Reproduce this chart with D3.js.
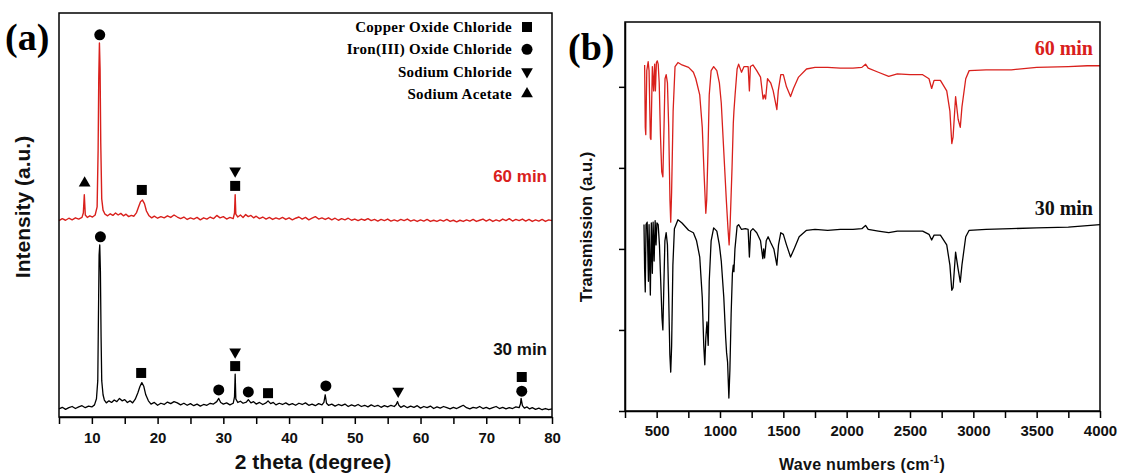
<!DOCTYPE html>
<html lang="en">
<head>
  <meta charset="UTF-8">
  <title>XRD + FTIR</title>
  <style>
    body { margin: 0; background: #fff; }
    svg { display: block; }
    .axis path, .axis line { stroke: #000; stroke-width: 1.5; }
    .axis text { font-family: "Liberation Sans", Arial, sans-serif; font-weight: bold; font-size: 15px; fill: #111; }
  </style>
</head>
<body>
  <svg id="chart" width="1121" height="473"></svg>
  <script src="https://d3js.org/d3.v7.min.js"></script>
  <script>
    // ---- (a) XRD, 2 theta vs intensity (a.u.) ----
    const xrd30 = [
      [5.0,2.0],[5.5,2.4],[6.0,1.9],[6.5,2.3],[7.0,2.6],[7.5,2.1],[8.0,2.5],[8.5,2.8],[9.0,2.3],[9.5,2.7],
      [10.0,2.5],[10.4,3.0],[10.7,4.5],[10.9,9],[11.0,25],[11.1,40],[11.2,42.6],[11.3,36],[11.4,20],[11.5,9],
      [11.7,5.5],[11.9,4.2],[12.2,3.5],[12.6,4.0],[13.0,3.6],[13.4,4.2],[13.8,3.8],[14.2,4.6],[14.6,4.0],[15.0,4.3],
      [15.4,3.6],[15.8,4.0],[16.2,3.5],[16.6,4.4],[17.0,6.0],[17.3,7.5],[17.6,8.5],[17.9,7.6],[18.2,5.5],[18.6,4.0],
      [19.0,3.2],[19.5,3.6],[20.0,2.9],[20.5,3.4],[21.0,3.1],[21.5,3.7],[22.0,3.3],[22.5,3.8],[23.0,3.5],[23.5,3.0],
      [24.0,3.4],[24.5,2.9],[25.0,3.3],[25.5,2.8],[26.0,3.2],[26.5,2.7],[27.0,3.1],[27.5,2.9],[28.0,3.4],[28.5,3.2],
      [29.0,3.8],[29.3,4.6],[29.6,3.6],[30.0,3.2],[30.5,3.5],[31.0,3.0],[31.5,3.4],[31.7,5],[31.8,10.6],[31.9,4.5],
      [32.2,3.6],[32.6,3.9],[33.0,3.4],[33.5,3.7],[33.8,4.3],[34.2,3.5],[34.6,3.8],[35.0,3.2],[35.5,3.6],[36.0,3.1],
      [36.5,3.5],[36.8,4.0],[37.2,3.3],[37.6,3.6],[38.0,3.0],[38.5,3.4],[39.0,3.1],[39.5,3.5],[40.0,3.0],[40.5,3.3],
      [41.0,2.9],[41.5,3.4],[42.0,3.1],[42.5,3.5],[43.0,2.9],[43.5,3.2],[44.0,2.8],[44.5,3.3],[45.0,3.0],[45.3,3.6],
      [45.5,5.5],[45.7,3.4],[46.0,2.9],[46.5,3.2],[47.0,2.7],[47.5,3.1],[48.0,2.8],[48.5,3.2],[49.0,2.6],[49.5,3.0],
      [50.0,2.7],[50.5,3.1],[51.0,2.6],[51.5,2.9],[52.0,2.5],[52.5,3.0],[53.0,2.6],[53.5,2.9],[54.0,2.4],[54.5,2.8],
      [55.0,2.5],[55.5,2.9],[56.0,2.6],[56.3,3.1],[56.5,3.8],[56.7,2.9],[57.0,2.4],[57.5,2.8],[58.0,2.3],[58.5,2.7],
      [59.0,2.4],[59.5,2.8],[60.0,2.2],[60.5,2.6],[61.0,2.3],[61.5,2.7],[62.0,2.1],[62.5,2.5],[63.0,2.2],[63.5,2.6],
      [64.0,2.3],[64.5,2.0],[65.0,2.4],[65.5,2.1],[66.0,2.5],[66.5,2.9],[67.0,2.3],[67.5,2.0],[68.0,2.4],[68.5,2.2],
      [69.0,2.6],[69.5,2.1],[70.0,2.4],[70.5,2.0],[71.0,2.3],[71.5,2.6],[72.0,2.1],[72.5,2.4],[73.0,2.0],[73.5,2.3],
      [74.0,2.1],[74.5,2.5],[75.0,2.3],[75.2,3.2],[75.3,4.6],[75.5,2.8],[75.8,2.2],[76.2,2.5],[76.6,2.0],[77.0,2.3],
      [77.5,1.9],[78.0,2.2],[78.5,1.8],[79.0,2.1],[79.5,1.8],[80.0,2.0]
    ];
    const xrd60 = [
      [5.0,2.6],[5.5,3.1],[6.0,2.7],[6.5,3.2],[7.0,2.8],[7.5,3.3],[8.0,3.0],[8.5,3.4],[8.7,4.5],[8.85,9.0],
      [9.0,4.0],[9.3,3.4],[9.7,3.8],[10.1,3.5],[10.5,4.0],[10.8,6],[10.95,20],[11.05,38],[11.15,46.6],[11.25,40],
      [11.35,22],[11.5,8],[11.7,5.2],[12.0,4.2],[12.4,3.8],[12.8,4.3],[13.2,3.9],[13.6,4.5],[14.0,4.0],[14.4,4.4],
      [14.8,3.8],[15.2,4.2],[15.6,3.6],[16.0,3.9],[16.4,3.7],[16.8,4.6],[17.1,6.0],[17.4,7.3],[17.7,7.7],[18.0,6.8],
      [18.3,5.0],[18.7,3.8],[19.1,3.3],[19.5,3.7],[20.0,3.2],[20.5,3.6],[21.0,3.3],[21.5,3.8],[22.0,3.4],[22.5,4.0],
      [23.0,3.5],[23.5,3.1],[24.0,3.5],[24.5,2.9],[25.0,3.3],[25.5,3.0],[26.0,3.4],[26.5,2.8],[27.0,3.3],[27.5,3.0],
      [28.0,3.5],[28.5,3.1],[29.0,3.9],[29.5,3.3],[30.0,3.6],[30.5,3.0],[31.0,3.4],[31.5,3.1],[31.7,4.5],[31.8,9.0],
      [31.9,4.2],[32.2,3.5],[32.6,4.0],[33.0,3.4],[33.4,4.1],[33.8,3.6],[34.2,3.9],[34.6,3.3],[35.0,3.7],[35.5,3.1],
      [36.0,3.5],[36.5,3.0],[37.0,3.4],[37.5,2.9],[38.0,3.3],[38.5,3.0],[39.0,3.4],[39.5,2.9],[40.0,3.3],[40.5,2.8],
      [41.0,3.2],[41.5,3.5],[42.0,3.0],[42.5,3.4],[43.0,2.8],[43.5,3.2],[44.0,3.6],[44.5,3.0],[45.0,3.3],[45.5,2.9],
      [46.0,3.3],[46.5,2.8],[47.0,3.2],[47.5,2.7],[48.0,3.1],[48.5,2.8],[49.0,3.2],[49.5,2.7],[50.0,3.0],[50.5,2.6],
      [51.0,3.0],[51.5,2.7],[52.0,3.1],[52.5,2.6],[53.0,2.9],[53.5,2.5],[54.0,2.9],[54.5,2.6],[55.0,3.0],[55.5,2.5],
      [56.0,2.8],[56.5,2.5],[57.0,2.9],[57.5,2.6],[58.0,3.0],[58.5,2.5],[59.0,2.8],[59.5,2.4],[60.0,2.8],[60.5,2.5],
      [61.0,2.9],[61.5,2.4],[62.0,2.7],[62.5,2.4],[63.0,2.8],[63.5,2.5],[64.0,2.9],[64.5,2.4],[65.0,2.7],[65.5,2.3],
      [66.0,2.7],[66.5,2.4],[67.0,2.8],[67.5,2.5],[68.0,2.9],[68.5,2.4],[69.0,2.7],[69.5,3.0],[70.0,2.5],[70.5,2.9],
      [71.0,2.4],[71.5,2.8],[72.0,2.5],[72.5,3.0],[73.0,2.6],[73.5,3.1],[74.0,2.5],[74.5,2.9],[75.0,2.6],[75.5,3.0],
      [76.0,2.5],[76.5,2.9],[77.0,2.4],[77.5,2.8],[78.0,2.5],[78.5,2.9],[79.0,2.4],[79.5,2.8],[80.0,2.6]
    ];
    const xrd60Offset = 46;

    // peak markers: [shape, 2theta, level]
    const markers60 = [
      ["triUp", 8.9, 57.9], ["circle", 11.2, 94.6], ["square", 17.6, 56.2],
      ["triDown", 31.8, 60.9], ["square", 31.8, 57.2]
    ];
    const markers30 = [
      ["circle", 11.3, 44.6], ["square", 17.5, 10.9], ["circle", 29.3, 6.7],
      ["triDown", 31.8, 16.1], ["square", 31.8, 12.6], ["circle", 33.8, 6.2],
      ["square", 36.8, 5.9], ["circle", 45.6, 7.7], ["triDown", 56.6, 6.4],
      ["circle", 75.4, 6.4], ["square", 75.4, 9.9]
    ];
    const legendNames = ["Copper Oxide Chloride", "Iron(III) Oxide Chloride", "Sodium Chloride", "Sodium Acetate"];
    const legendShapes = ["square", "circle", "triDown", "triUp"];

    const xTicksA = d3.range(5, 81, 5);

    // ---- (b) FTIR, wave number vs transmission (a.u.) ----
    const ftir60 = [
      [405,4.27],[410,3.50],[414,3.41],[422,4.20],[433,4.31],[440,4.20],[450,3.37],[455,3.35],[466,4.25],[476,3.95],
      [484,4.28],[490,3.95],[498,4.30],[505,4.32],[512,4.28],[520,4.05],[530,3.40],[540,2.95],[549,2.89],[558,3.50],
      [566,4.10],[575,4.15],[585,4.05],[595,3.50],[605,2.60],[611,2.33],[618,2.70],[630,3.70],[645,4.25],[668,4.30],
      [700,4.27],[752,4.24],[790,4.18],[809,4.10],[840,3.90],[860,3.50],[875,2.90],[888,2.44],[895,2.60],[905,3.20],
      [915,3.90],[930,4.20],[950,4.25],[975,4.20],[995,4.05],[1010,3.80],[1030,3.20],[1050,2.60],[1063,2.25],[1072,2.05],
      [1080,2.30],[1095,3.00],[1105,3.55],[1110,3.70],[1119,3.90],[1135,4.22],[1147,4.28],[1170,4.18],[1190,4.25],[1222,4.25],
      [1232,3.95],[1240,4.25],[1260,4.27],[1290,4.20],[1320,4.12],[1340,3.85],[1350,3.90],[1360,3.85],[1375,4.10],[1400,4.05],
      [1420,3.95],[1449,3.72],[1460,3.95],[1480,4.15],[1500,4.15],[1525,4.00],[1557,3.88],[1580,3.98],[1620,4.12],[1683,4.22],
      [1750,4.24],[1850,4.24],[1950,4.23],[2050,4.23],[2120,4.24],[2149,4.28],[2170,4.23],[2250,4.18],[2332,4.13],[2400,4.16],
      [2500,4.15],[2600,4.15],[2650,4.10],[2671,3.98],[2690,4.08],[2740,4.08],[2790,3.95],[2815,3.70],[2830,3.30],[2840,3.38],
      [2860,3.88],[2880,3.60],[2897,3.50],[2910,3.75],[2940,4.10],[2967,4.20],[3100,4.21],[3300,4.21],[3500,4.24],[3750,4.25],
      [3900,4.26],[4000,4.26]
    ];
    const ftir30 = [
      [400,2.30],[405,1.75],[410,1.47],[416,2.30],[425,2.33],[435,1.60],[440,2.30],[450,1.43],[458,2.32],[466,1.70],
      [472,2.33],[480,1.85],[488,2.35],[495,2.05],[502,2.32],[512,2.30],[522,2.05],[532,1.60],[542,1.15],[549,1.00],
      [556,1.50],[565,2.10],[575,2.20],[585,2.05],[595,1.40],[604,0.70],[611,0.48],[618,0.80],[628,1.80],[640,2.25],
      [668,2.36],[700,2.32],[752,2.23],[790,2.20],[815,2.10],[840,1.90],[860,1.40],[872,0.80],[880,0.57],[888,0.90],
      [897,1.10],[907,0.81],[915,1.60],[930,2.10],[950,2.26],[975,2.22],[995,2.05],[1010,1.85],[1030,1.40],[1045,0.90],
      [1052,0.72],[1060,0.60],[1070,0.16],[1078,0.50],[1088,1.20],[1098,1.70],[1105,1.80],[1110,1.72],[1118,2.00],[1135,2.28],
      [1147,2.30],[1170,2.24],[1200,2.25],[1222,2.24],[1232,1.90],[1242,2.22],[1260,2.25],[1290,2.20],[1320,2.10],[1338,1.88],
      [1345,2.00],[1352,1.89],[1365,2.10],[1380,2.15],[1400,2.08],[1425,2.00],[1449,1.80],[1462,2.05],[1480,2.20],[1500,2.18],
      [1525,2.05],[1557,1.90],[1585,2.00],[1625,2.15],[1683,2.23],[1750,2.24],[1850,2.23],[1950,2.24],[2050,2.24],[2120,2.25],
      [2149,2.29],[2170,2.24],[2250,2.22],[2332,2.20],[2400,2.22],[2500,2.22],[2600,2.22],[2650,2.18],[2671,2.11],[2690,2.17],
      [2740,2.17],[2790,2.05],[2815,1.80],[2830,1.49],[2840,1.52],[2860,1.96],[2880,1.75],[2897,1.59],[2910,1.80],[2940,2.15],
      [2967,2.23],[3100,2.24],[3300,2.25],[3500,2.26],[3750,2.27],[4000,2.30]
    ];
    const xTicksB = d3.range(250, 4001, 250);
    const yTicksB = [0, 1, 2, 3, 4];

    const red = "#d9201c";
    const sans = "'Liberation Sans', Arial, sans-serif";
    const serif = "'Liberation Serif', 'Times New Roman', serif";

    const svg = d3.select("#chart");

    // scales
    const xA = d3.scaleLinear().domain([5, 80]).range([59, 552]);
    const yA = d3.scaleLinear().domain([0, 100]).range([417, 13]);
    const xB = d3.scaleLinear().domain([250, 4000]).range([625, 1100]);
    const yB = d3.scaleLinear().domain([0, 4.8]).range([411, 22]);

    function symbolPath(shape) {
      if (shape === "square") return d3.symbol(d3.symbolSquare, 100)();
      if (shape === "circle") return d3.symbol(d3.symbolCircle, 95)();
      return d3.symbol(d3.symbolTriangle, 60)();
    }
    function drawMarker(g, shape, x, y) {
      g.append("path")
        .attr("d", symbolPath(shape))
        .attr("transform", `translate(${x},${y})` + (shape === "triDown" ? " rotate(180)" : ""))
        .attr("fill", "#000");
    }

    // ---------- panel (a) ----------
    const gA = svg.append("g");
    const lineA = d3.line().x(d => xA(d[0])).y(d => yA(d[1]));

    gA.append("path").datum(xrd30)
      .attr("fill", "none").attr("stroke", "#000").attr("stroke-width", 1.3)
      .attr("stroke-linejoin", "round").attr("d", lineA);
    gA.append("path").datum(xrd60.map(d => [d[0], d[1] + xrd60Offset]))
      .attr("fill", "none").attr("stroke", red).attr("stroke-width", 1.4)
      .attr("stroke-linejoin", "round").attr("d", lineA);

    markers60.concat(markers30).forEach(m => drawMarker(gA, m[0], xA(m[1]), yA(m[2])));

    gA.append("g").attr("class", "axis")
      .attr("transform", `translate(0,${yA(0)})`)
      .call(d3.axisBottom(xA).tickValues(xTicksA).tickSize(7).tickSizeOuter(0)
        .tickFormat(d => d % 10 === 0 ? d : ""))
      .call(g => g.selectAll("text").attr("dy", "1.05em"));

    gA.append("rect")
      .attr("x", xA(5)).attr("y", yA(100))
      .attr("width", xA(80) - xA(5)).attr("height", yA(0) - yA(100))
      .attr("fill", "none").attr("stroke", "#000").attr("stroke-width", 1.5);

    // legend
    legendNames.forEach((name, i) => {
      const y = 27 + i * 22.3;
      gA.append("text")
        .attr("x", 512).attr("y", y + 5)
        .attr("text-anchor", "end")
        .attr("font-family", serif).attr("font-weight", "bold").attr("font-size", 15)
        .attr("letter-spacing", 0.3)
        .text(name);
      drawMarker(gA, legendShapes[i], 527, y);
    });

    gA.append("text").attr("x", 547).attr("y", 182).attr("text-anchor", "end")
      .attr("font-family", sans).attr("font-weight", "bold").attr("font-size", 17)
      .attr("fill", red).text("60 min");
    gA.append("text").attr("x", 547).attr("y", 355).attr("text-anchor", "end")
      .attr("font-family", sans).attr("font-weight", "bold").attr("font-size", 17)
      .attr("fill", "#111").text("30 min");

    gA.append("text").attr("x", 5).attr("y", 50)
      .attr("font-family", serif).attr("font-weight", "bold").attr("font-size", 38)
      .text("(a)");
    gA.append("text")
      .attr("transform", "translate(30,207) rotate(-90)")
      .attr("text-anchor", "middle")
      .attr("font-family", sans).attr("font-weight", "bold").attr("font-size", 21)
      .attr("fill", "#111").text("Intensity (a.u.)");
    gA.append("text").attr("x", 313).attr("y", 469)
      .attr("text-anchor", "middle")
      .attr("font-family", sans).attr("font-weight", "bold").attr("font-size", 21)
      .attr("fill", "#111").text("2 theta (degree)");

    // ---------- panel (b) ----------
    const gB = svg.append("g");
    const lineB = d3.line().x(d => xB(d[0])).y(d => yB(d[1]));

    gB.append("path").datum(ftir30)
      .attr("fill", "none").attr("stroke", "#000").attr("stroke-width", 1.3)
      .attr("stroke-linejoin", "round").attr("d", lineB);
    gB.append("path").datum(ftir60)
      .attr("fill", "none").attr("stroke", red).attr("stroke-width", 1.3)
      .attr("stroke-linejoin", "round").attr("d", lineB);

    gB.append("g").attr("class", "axis")
      .attr("transform", `translate(0,${yB(0)})`)
      .call(d3.axisBottom(xB).tickValues(xTicksB).tickSize(7).tickSizeOuter(0)
        .tickFormat(d => d % 500 === 0 ? d : ""))
      .call(g => g.selectAll("text").attr("dy", "1.0em"));
    gB.append("g").attr("class", "axis")
      .attr("transform", `translate(${xB(250)},0)`)
      .call(d3.axisLeft(yB).tickValues(yTicksB).tickSize(6).tickSizeOuter(0).tickFormat(""));

    gB.append("rect")
      .attr("x", xB(250)).attr("y", yB(4.8))
      .attr("width", xB(4000) - xB(250)).attr("height", yB(0) - yB(4.8))
      .attr("fill", "none").attr("stroke", "#000").attr("stroke-width", 1.5);

    gB.append("text").attr("x", 1093).attr("y", 55).attr("text-anchor", "end")
      .attr("font-family", serif).attr("font-weight", "bold").attr("font-size", 20)
      .attr("fill", red).text("60 min");
    gB.append("text").attr("x", 1093).attr("y", 215).attr("text-anchor", "end")
      .attr("font-family", serif).attr("font-weight", "bold").attr("font-size", 20)
      .attr("fill", "#111").text("30 min");

    gB.append("text").attr("x", 568).attr("y", 60)
      .attr("font-family", serif).attr("font-weight", "bold").attr("font-size", 38)
      .text("(b)");
    gB.append("text")
      .attr("transform", "translate(592,227) rotate(-90)")
      .attr("text-anchor", "middle")
      .attr("font-family", sans).attr("font-weight", "bold").attr("font-size", 16.5)
      .attr("fill", "#111").text("Transmission (a.u.)");
    const xl = gB.append("text").attr("x", 862).attr("y", 470)
      .attr("text-anchor", "middle")
      .attr("font-family", sans).attr("font-weight", "bold").attr("font-size", 16)
      .attr("letter-spacing", 0.3)
      .attr("fill", "#111");
    xl.append("tspan").text("Wave numbers (cm");
    xl.append("tspan").attr("font-size", 10).attr("dy", -7).text("-1");
    xl.append("tspan").attr("dy", 7).text(")");
  </script>
</body>
</html>
